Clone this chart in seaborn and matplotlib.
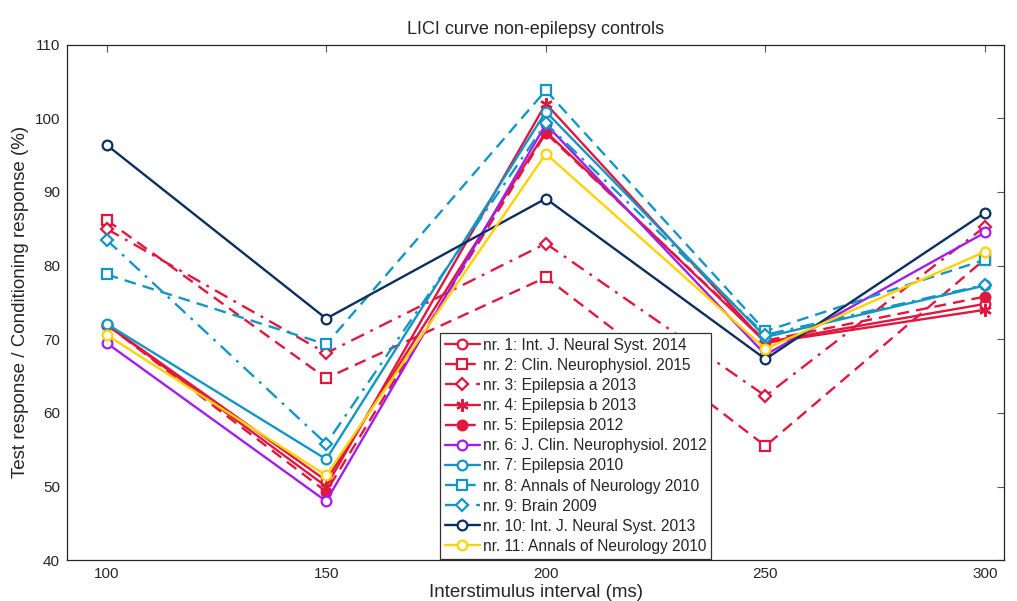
import matplotlib
matplotlib.use("Agg")
import matplotlib.pyplot as plt
import seaborn as sns
import pandas as pd

isi = [100, 150, 200, 250, 300]

labels = [
    "nr. 1: Int. J. Neural Syst. 2014",
    "nr. 2: Clin. Neurophysiol. 2015",
    "nr. 3: Epilepsia a 2013",
    "nr. 4: Epilepsia b 2013",
    "nr. 5: Epilepsia 2012",
    "nr. 6: J. Clin. Neurophysiol. 2012",
    "nr. 7: Epilepsia 2010",
    "nr. 8: Annals of Neurology 2010",
    "nr. 9: Brain 2009",
    "nr. 10: Int. J. Neural Syst. 2013",
    "nr. 11: Annals of Neurology 2010",
]

nr1 = [72.0, 50.8, 98.2, 69.6, 74.8]
nr2 = [86.2, 64.7, 78.4, 55.5, 80.9]
nr3 = [85.0, 68.1, 83.0, 62.3, 85.3]
nr4 = [72.0, 50.0, 102.0, 69.5, 74.0]
nr5 = [72.0, 49.3, 98.0, 69.8, 75.8]
nr6 = [69.5, 48.0, 99.2, 67.9, 84.5]
nr7 = [72.1, 53.7, 100.9, 70.3, 77.3]
nr8 = [78.8, 69.3, 103.8, 71.1, 80.8]
nr9 = [83.5, 55.8, 99.3, 70.6, 77.4]
nr10 = [96.4, 72.8, 89.1, 67.3, 87.2]
nr11 = [70.6, 51.5, 95.2, 68.7, 81.9]

series = [nr1, nr2, nr3, nr4, nr5, nr6, nr7, nr8, nr9, nr10, nr11]

RED = "#E0173F"
PUR = "#A11EEB"
CYA = "#1496C4"
NAV = "#0C2F5E"
GLD = "#FFD200"

colors = [RED, RED, RED, RED, RED, PUR, CYA, CYA, CYA, NAV, GLD]
dash = (0, (5, 3))
dashdot = (0, (6, 3, 1.2, 3))
styles = ["-", dash, dashdot, "-", dash, "-", "-", dash, dashdot, "-", "-"]
markers = ["o", "s", "D", (6, 2, 0), "o", "o", "o", "s", "D", "o", "o"]
msizes = [7, 7, 6, 9, 7, 7, 7, 7, 6, 7, 7]
filled = [False, False, False, True, True, False, False, False, False, False, False]

sns.set_style("white")
plt.rcParams["font.family"] = ["Liberation Sans", "DejaVu Sans"]

fig = plt.figure(figsize=(10.17, 6.01), dpi=100)
ax = fig.add_axes([0.0659, 0.068, 0.9213, 0.8576])

for lab, vals, c, ls, mk, ms, fl in zip(labels, series, colors, styles, markers, msizes, filled):
    df = pd.DataFrame({"x": isi, "y": vals})
    sns.lineplot(data=df, x="x", y="y", ax=ax, color=c, linestyle=ls, marker=mk,
                 markersize=ms, markerfacecolor=(c if fl else "white"),
                 markeredgecolor=c, markeredgewidth=1.6, linewidth=1.7,
                 label=lab, legend=False)

ax.set_xlim(91, 304.3)
ax.set_ylim(40, 110)
ax.set_xticks(isi)
ax.set_yticks(range(40, 111, 10))
ax.tick_params(direction="in", length=5, width=0.8, labelsize=11, color="#555555",
               top=True, right=True, pad=5)
for s in ax.spines.values():
    s.set_color("#262626")
    s.set_linewidth(0.9)

ax.set_xlabel("Interstimulus interval (ms)", fontsize=13.5, labelpad=2)
ax.set_ylabel("Test response / Conditioning response (%)", fontsize=13.5, labelpad=4)
ax.set_title("LICI curve non-epilepsy controls", fontsize=13, pad=8)

handles, labs = ax.get_legend_handles_labels()
leg = ax.legend(handles, labs, loc="lower left", bbox_to_anchor=(0.398, 0.003),
                fontsize=11.2, frameon=True, fancybox=False, handlelength=2.3,
                handletextpad=0.15, labelspacing=0.33, borderpad=0.3,
                borderaxespad=0.0)
leg.get_frame().set_edgecolor("#333333")
leg.get_frame().set_linewidth(0.9)
leg.get_frame().set_alpha(1)

fig.savefig("out.png", dpi=100)
